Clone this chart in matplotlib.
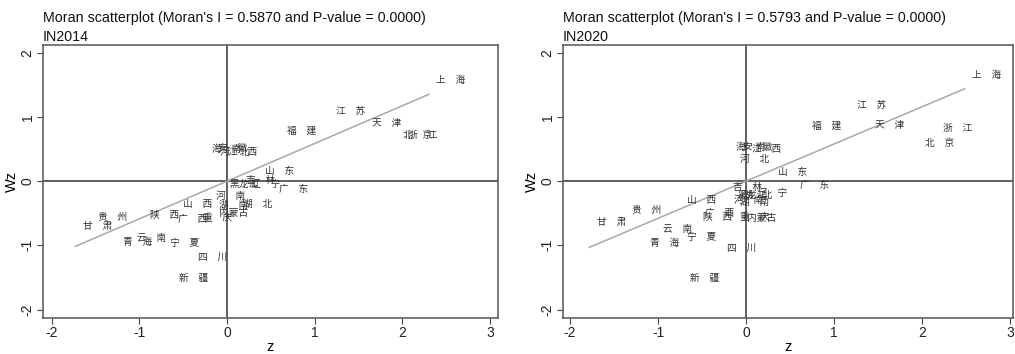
import matplotlib
matplotlib.use("Agg")
import matplotlib.pyplot as plt

# 省份 (西藏缺失)
provinces = ["北京", "天津", "河北", "山西", "内蒙古", "辽宁", "吉林", "黑龙江",
             "上海", "江苏", "浙江", "安徽", "福建", "江西", "山东", "河南",
             "湖北", "湖南", "广东", "广西", "海南", "重庆", "四川", "贵州",
             "云南", "陕西", "甘肃", "青海", "宁夏", "新疆"]

# 2014
z_2014 = [1.92, 1.57, -0.17, -0.59, -0.18, 0.19, 0.13, -0.06,
          2.30, 1.16, 1.98, -0.19, 0.59, -0.08, 0.35, -0.22,
          0.09, -0.18, 0.50, -0.65, -0.26, -0.36, -0.42, -1.56,
          -1.12, -0.97, -1.73, -1.27, -0.74, -0.64]
wz_2014 = [0.72, 0.90, 0.45, -0.36, -0.50, -0.05, 0.02, -0.05,
           1.57, 1.10, 0.72, 0.52, 0.78, 0.45, 0.16, -0.23,
           -0.35, -0.37, -0.12, -0.59, 0.50, -0.58, -1.18, -0.55,
           -0.88, -0.52, -0.70, -0.95, -0.96, -1.51]

# 2020
z_2020 = [1.94, 1.38, -0.16, -0.76, -0.08, 0.05, -0.24, -0.19,
          2.48, 1.17, 2.15, -0.12, 0.66, -0.02, 0.28, -0.22,
          -0.12, -0.16, 0.52, -0.55, -0.20, -0.16, -0.30, -1.38,
          -1.03, -0.58, -1.78, -1.18, -0.76, -0.73]
wz_2020 = [0.59, 0.87, 0.34, -0.30, -0.58, -0.19, -0.09, -0.22,
           1.65, 1.18, 0.82, 0.53, 0.86, 0.50, 0.14, -0.30,
           -0.22, -0.32, -0.06, -0.50, 0.53, -0.56, -1.04, -0.45,
           -0.75, -0.56, -0.64, -0.96, -0.87, -1.51]

morans_i = [0.5870, 0.5793]
p_values = [0.0000, 0.0000]
years = ["IN2014", "IN2020"]

cjk = ["Noto Sans CJK SC", "DejaVu Sans"]
plt.rcParams["font.family"] = ["Liberation Sans", "DejaVu Sans"]
plt.rcParams["axes.unicode_minus"] = False

fig = plt.figure(figsize=(10.15, 3.54), dpi=100)
ax1 = fig.add_axes([0.0424, 0.102, 0.4483, 0.771])
ax2 = fig.add_axes([0.5547, 0.102, 0.4433, 0.771])

def label(name):
    # 两字省名中间用全角空格, 跟原始数据一样
    if len(name) == 2:
        return name[0] + "\u3000" + name[1]
    return name

panels = [(ax1, z_2014, wz_2014, (-2.1, 3.09)), (ax2, z_2020, wz_2020, (-2.08, 3.03))]
for k, (ax, z, wz, xl) in enumerate(panels):
    ax.axhline(0, color="#555555", lw=1.3, zorder=1)
    ax.axvline(0, color="#555555", lw=1.3, zorder=1)
    zmin, zmax = min(z), max(z)
    ax.plot([zmin, zmax], [morans_i[k] * zmin, morans_i[k] * zmax],
            color="#a8a8a8", lw=1.1, zorder=2)
    for name, x, y in zip(provinces, z, wz):
        ax.annotate(label(name), (x, y), xytext=(5.5, 0), textcoords="offset points",
                    ha="left", va="center", fontsize=7, family=cjk, color="#303030",
                    zorder=3)
    ax.set_xlim(xl)
    ax.set_ylim(-2.13, 2.12)
    ax.set_xticks([-2, -1, 0, 1, 2, 3])
    ax.set_yticks([-2, -1, 0, 1, 2])
    ax.set_yticklabels(["-2", "-1", "0", "1", "2"], rotation=90, va="center")
    ax.tick_params(labelsize=10, length=4, color="#444444", labelcolor="#222222", pad=2)
    for s in ax.spines.values():
        s.set_color("#555555")
        s.set_linewidth(1.1)
    ax.set_xlabel("z", fontsize=10.5, labelpad=0)
    ax.set_ylabel("Wz", fontsize=10.5, labelpad=1)
    ax.set_title("Moran scatterplot (Moran's I = %.4f and P-value = %.4f)\n%s"
                 % (morans_i[k], p_values[k], years[k]),
                 loc="left", fontsize=10.3, pad=3, linespacing=1.4, color="#111111")

fig.savefig("out.png", dpi=100)
